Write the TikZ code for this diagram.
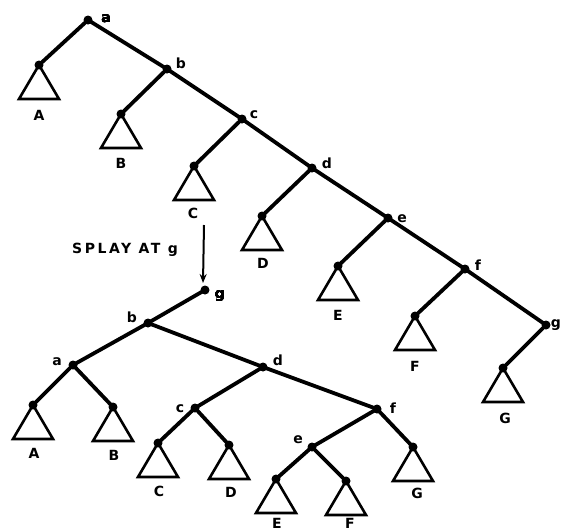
\documentclass[tikz,border=0pt]{standalone}
\usepackage{fontspec}
\setmainfont{DejaVu Sans}
\newfontfamily\spaced[LetterSpace=18]{DejaVu Sans}
\usetikzlibrary{arrows.meta}
\tikzset{
  edge/.style={line width=3.8pt, line cap=round},
  tri/.style={line width=2.6pt, line join=miter},
  dot/.style={circle, fill, inner sep=0pt, minimum size=9pt},
  lbl/.style={font=\bfseries\fontsize{14}{14}\selectfont, inner sep=0pt, anchor=base},
}
\newcommand{\subtree}[1]{\draw[tri] (#1.center) -- ++(-20,34) -- ++(40,0) -- cycle;}
\begin{document}
\begin{tikzpicture}[x=1pt,y=-1pt]
\useasboundingbox (0,0) rectangle (562,531);
\clip (0,0) rectangle (562,531);
% ---------- top tree ----------
\node[dot] (a) at (88,20) {};
\node[dot] (A) at (39,65) {};
\node[dot] (b) at (167,69) {};
\node[dot] (B) at (121,114) {};
\node[dot] (c) at (242,119) {};
\node[dot] (C) at (194,166) {};
\node[dot] (d) at (312,168) {};
\node[dot] (D) at (262,216) {};
\node[dot] (e) at (388,218) {};
\node[dot] (E) at (338,266) {};
\node[dot] (f) at (465,269) {};
\node[dot] (F) at (415,316) {};
\node[dot] (g) at (546,325) {};
\node[dot] (G) at (503,368) {};
\draw[edge] (a.center) -- (b.center) -- (c.center) -- (d.center) -- (e.center) -- (f.center) -- (g.center);
\foreach \p/\q in {a/A,b/B,c/C,d/D,e/E,f/F,g/G} \draw[edge] (\p.center) -- (\q.center);
\foreach \q in {A,B,C,D,E,F,G} \subtree{\q}
\node[lbl] (la) at (106,22) {a};
\node[lbl] (lb) at (181,68) {b};
\node[lbl] (lc) at (254,118) {c};
\node[lbl] (ld) at (327,168) {d};
\node[lbl] (le) at (402,222) {e};
\node[lbl] (lf) at (478,270) {f};
\node[lbl] (lg) at (556,327) {g};
\node[lbl] (lA) at (39,120) {A};
\node[lbl] (lB) at (121,168) {B};
\node[lbl] (lC) at (193,218) {C};
\node[lbl] (lD) at (263,268) {D};
\node[lbl] (lE) at (338,320) {E};
\node[lbl] (lF) at (415,371) {F};
\node[lbl] (lG) at (505,423) {G};
% ---------- splay arrow ----------
\coordinate (s1) at (204,225);
\coordinate (s2) at (203,283);
\draw[line width=2pt, -{Stealth[length=9pt,width=7pt]}] (s1) -- (s2);
\node[lbl, font=\spaced\bfseries\fontsize{14}{14}\selectfont] (splay) at (125,253) {SPLAY AT g};
% ---------- bottom tree ----------
\node[dot] (g2) at (205,290) {};
\node[dot] (b2) at (148,323) {};
\node[dot] (a2) at (73,365) {};
\node[dot] (d2) at (263,367) {};
\node[dot] (A2) at (33,405) {};
\node[dot] (B2) at (113,407) {};
\node[dot] (c2) at (195,408) {};
\node[dot] (f2) at (377,409) {};
\node[dot] (C2) at (158,443) {};
\node[dot] (D2) at (229,445) {};
\node[dot] (e2) at (312,447) {};
\node[dot] (G2) at (413,447) {};
\node[dot] (E2) at (276,479) {};
\node[dot] (F2) at (346,481) {};
\foreach \p/\q in {g2/b2,b2/a2,b2/d2,a2/A2,a2/B2,d2/c2,d2/f2,c2/C2,c2/D2,f2/e2,f2/G2,e2/E2,e2/F2}
  \draw[edge] (\p.center) -- (\q.center);
\foreach \q in {A2,B2,C2,D2,E2,F2,G2} \subtree{\q}
\node[lbl] (lg2) at (220,298) {g};
\node[lbl] (lb2) at (132,322) {b};
\node[lbl] (la2) at (57,365) {a};
\node[lbl] (ld2) at (278,365) {d};
\node[lbl] (lc2) at (180,412) {c};
\node[lbl] (lf2) at (393,413) {f};
\node[lbl] (le2) at (298,443) {e};
\node[lbl] (lA2) at (34,458) {A};
\node[lbl] (lB2) at (114,460) {B};
\node[lbl] (lC2) at (159,496) {C};
\node[lbl] (lD2) at (231,497) {D};
\node[lbl] (lG2) at (417,498) {G};
\node[lbl] (lE2) at (277,528) {E};
\node[lbl] (lF2) at (350,528) {F};
\end{tikzpicture}
\end{document}
